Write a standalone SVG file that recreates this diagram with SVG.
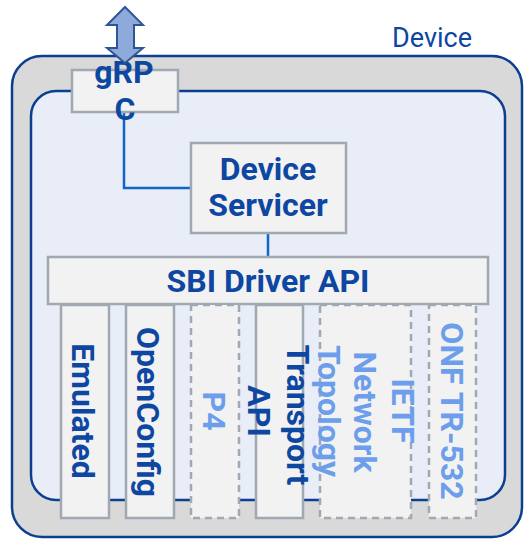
<svg xmlns="http://www.w3.org/2000/svg" width="526" height="539" viewBox="0 0 526 539">
  <style>
    .frame { stroke: #0d3f91; stroke-width: 2.5; }
    .box { fill: #f2f2f2; stroke: #a0a8b2; stroke-width: 2.5; }
    .box-dash { fill: #f2f2f2; stroke: #a0a8b2; stroke-width: 2.5; stroke-dasharray: 7 5; }
    .lbl { font-family: Roboto, "Liberation Sans", sans-serif; font-weight: bold; font-size: 32px; fill: #0d47a1; text-anchor: middle; }
    .lbl-opt { font-family: Roboto, "Liberation Sans", sans-serif; font-weight: bold; font-size: 32px; fill: #6d9eeb; text-anchor: middle; }
    .title { font-family: Roboto, "Liberation Sans", sans-serif; font-size: 27px; fill: #0d47a1; text-anchor: middle; }
    .link { fill: none; stroke: #1266c9; stroke-width: 2.5; }
  </style>

  <!-- device enclosure -->
  <g id="device">
    <rect class="frame" x="12" y="56" width="510" height="481" rx="30" fill="#d9d9d9"/>
    <rect class="frame" x="31" y="91" width="474" height="409" rx="25" fill="#e8edf7"/>
    <text class="title" x="432" y="47">Device</text>
  </g>

  <!-- connectors -->
  <g id="connectors">
    <polyline class="link" points="124,112 124,188 191,188"/>
    <line class="link" x1="268" y1="233" x2="268" y2="257"/>
  </g>

  <g id="grpc">
    <rect class="box" x="72" y="70" width="106" height="42"/>
    <text class="lbl" x="124" y="83">gRP</text>
    <text class="lbl" x="125" y="120">C</text>
  </g>

  <!-- external bidirectional interface -->
  <g id="external-arrow">
    <polygon points="125,7 143,25 134,25 134,48 143,48 125,63 107,48 117,48 117,25 107,25" fill="#8eaadb" stroke="#2f5597" stroke-width="2"/>
  </g>

  <g id="device-servicer">
    <rect class="box" x="191" y="143" width="155" height="90"/>
    <text class="lbl" x="268" y="180">Device</text>
    <text class="lbl" x="268" y="216">Servicer</text>
  </g>

  <g id="sbi-driver-api">
    <rect class="box" x="48" y="257" width="440" height="47"/>
    <text class="lbl" x="268" y="292">SBI Driver API</text>
  </g>

  <!-- drivers -->
  <g id="driver-emulated">
    <rect class="box" x="61" y="305" width="48" height="213"/>
    <text class="lbl" transform="translate(72,411) rotate(90)">Emulated</text>
  </g>
  <g id="driver-openconfig">
    <rect class="box" x="126" y="305" width="48" height="213"/>
    <text class="lbl" transform="translate(137,412) rotate(90)">OpenConfig</text>
  </g>
  <g id="driver-p4">
    <rect class="box-dash" x="191" y="305" width="48" height="213"/>
    <text class="lbl-opt" transform="translate(203,411) rotate(90)">P4</text>
  </g>
  <g id="driver-transport-api">
    <rect class="box" x="256" y="305" width="47" height="213"/>
    <text class="lbl" transform="translate(287,415) rotate(90)">Transport</text>
    <text class="lbl" transform="translate(248,411) rotate(90)">API</text>
  </g>
  <g id="driver-ietf-network-topology">
    <rect class="box-dash" x="320" y="305" width="91" height="213"/>
    <text class="lbl-opt" transform="translate(392,411) rotate(90)">IETF</text>
    <text class="lbl-opt" transform="translate(354,412) rotate(90)">Network</text>
    <text class="lbl-opt" transform="translate(318,411) rotate(90)">Topology</text>
  </g>
  <g id="driver-onf-tr-532">
    <rect class="box-dash" x="429" y="305" width="47" height="213"/>
    <text class="lbl-opt" transform="translate(441,411) rotate(90)">ONF TR-532</text>
  </g>
</svg>
